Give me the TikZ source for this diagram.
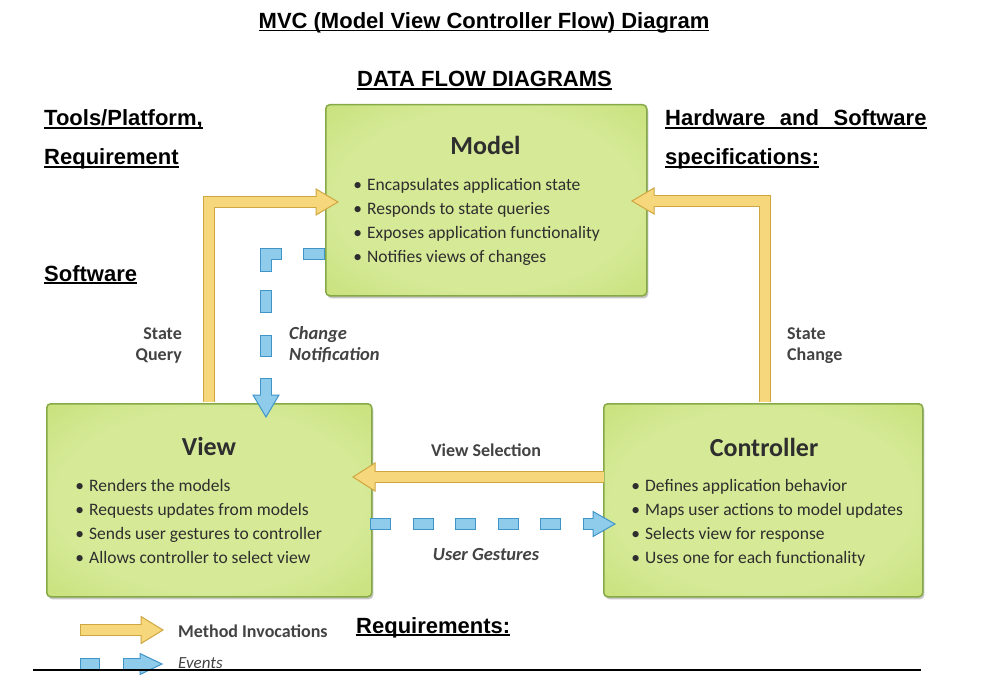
\documentclass[tikz,border=0pt]{standalone}
\usepackage{fontspec}
\setmainfont{Carlito}
\newfontfamily\hfont{Liberation Sans}
\usetikzlibrary{calc}

\definecolor{gout}{HTML}{B2D54F}
\definecolor{gmid}{HTML}{C4DE72}
\definecolor{gin}{HTML}{D5E996}
\definecolor{gborder}{HTML}{86A947}
\definecolor{yfill}{HTML}{F7D77C}
\definecolor{yborder}{HTML}{CFA740}
\definecolor{bfill}{HTML}{8FCCEB}
\definecolor{bborder}{HTML}{3F95C8}
\definecolor{txt}{HTML}{2E2E2E}

\pgfdeclareradialshading{boxshade}{\pgfpoint{0bp}{0bp}}{color(0bp)=(gin); color(24bp)=(gin); color(40bp)=(gmid); color(50bp)=(gout)}

\newcommand\hd[1]{\setbox0\hbox{#1}\rlap{\vrule height -1pt depth 2.6pt width \wd0}\box0}

\newcommand\fathead[5]{% fill, border, tip, angle, half height
  \filldraw[fill=#1, draw=#2, line width=1pt, line join=miter, shift={(#3)}, rotate=#4]
    (0,0) -- (-22,-#5) -- (-22,#5) -- cycle;}

\tikzset{
  mvcbox/.style={draw=gborder, line width=1.5pt, rounded corners=4pt, shading=boxshade,
    anchor=north west, inner sep=0pt,
    preaction={fill=black!22, transform canvas={shift={(1.5pt,-2.5pt)}}}},
  boxtitle/.style={font=\bfseries\fontsize{26}{30}\selectfont, text=txt, anchor=base, inner sep=0pt},
  bul/.style={font=\fontsize{17.5}{22}\selectfont, text=txt, anchor=base west, inner sep=0pt},
  lbl/.style={font=\bfseries\fontsize{18}{22}\selectfont, text=txt!90, inner sep=0pt},
  ilbl/.style={font=\bfseries\itshape\fontsize{18.5}{22}\selectfont, text=txt!90, inner sep=0pt},
  head/.style={font=\hfont\bfseries\fontsize{22}{26}\selectfont, text=black, inner sep=0pt, anchor=base west},
  yb/.style={draw=yborder, line width=12pt},
  yi/.style={draw=yfill, line width=10pt},
  bb/.style={draw=bborder, line width=12pt},
  bi/.style={draw=bfill, line width=10pt},
}

\begin{document}
\begin{tikzpicture}[x=1pt,y=-1pt]
\useasboundingbox (0,0) rectangle (992,676);
\fill[white] (0,0) rectangle (992,676);
\clip (0,0) rectangle (992,676);

% headings
\node[head, anchor=base] (title) at (484,28.8) {\hd{MVC (Model View Controller Flow) Diagram}};
\node[head, anchor=base] (dfd) at (484.5,87) {\hd{DATA FLOW DIAGRAMS}};
\node[head] (tools) at (44,126) {\hd{Tools/Platform,}};
\node[head] (req) at (44,165) {\hd{Requirement}};
\node[head] (soft) at (44,281) {\hd{Software}};
\node[head] (hw) at (665,126) {\hd{Hardware\hspace{14.5pt}and\hspace{14.5pt}Software}};
\node[head] (spec) at (665,165) {\hd{specifications:}};
\node[head] (reqs) at (356,633) {\hd{Requirements:}};

% boxes
\node[mvcbox, minimum width=321pt, minimum height=191pt] (model) at (325,104) {};
\node[mvcbox, minimum width=325pt, minimum height=193pt] (view) at (46,403) {};
\node[mvcbox, minimum width=319pt, minimum height=193pt] (controller) at (603,403) {};

\node[boxtitle] (mt) at (485.5,155) {Model};
\node[boxtitle] (vt) at (209,455) {View};
\node[boxtitle] (ct) at (764,456) {Controller};

\foreach \t [count=\i] in {Encapsulates application state, Responds to state queries,
  Exposes application functionality, Notifies views of changes}
  \node[bul] (mb\i) at (367,{191+23.7*(\i-1)}) {\llap{\textbullet\hspace{5pt}}\t};
\foreach \t [count=\i] in {Renders the models, Requests updates from models,
  Sends user gestures to controller, Allows controller to select view}
  \node[bul] (vb\i) at (89,{491+24*(\i-1)}) {\llap{\textbullet\hspace{5pt}}\t};
\foreach \t [count=\i] in {Defines application behavior, Maps user actions to model updates,
  Selects view for response, Uses one for each functionality}
  \node[bul] (cb\i) at (645,{491+24*(\i-1)}) {\llap{\textbullet\hspace{5pt}}\t};

% State Query arrow (view -> model)
\coordinate (sq0) at ($(view.north)+(-0.5,-0.8)$);
\coordinate (sqT) at (338,202);
\draw[yb] (sq0) |- ($(sqT)+(-22,0)$);
\fathead{yfill}{yborder}{sqT}{0}{13}
\draw[yi] (sq0) |- ($(sqT)+(-21,0)$);

% State Change arrow (controller -> model)
\coordinate (sc0) at ($(controller.north)+(1.5,-0.8)$);
\coordinate (scT) at (632,201);
\draw[yb] (sc0) |- ($(scT)+(22,0)$);
\fathead{yfill}{yborder}{scT}{180}{13}
\draw[yi] (sc0) |- ($(scT)+(21,0)$);

% View Selection arrow (controller -> view)
\coordinate (vs0) at ($(controller.west |- 0,477)+(0.8,0)$);
\coordinate (vsT) at (353,477);
\draw[yb] (vs0) -- ($(vsT)+(22,0)$);
\fathead{yfill}{yborder}{vsT}{180}{14}
\draw[yi] (vs0) -- ($(vsT)+(21,0)$);

% User Gestures (view -> controller), dashed
\coordinate (ug0) at (370,524);
\coordinate (ug1) at (583,524);
\coordinate (ugT) at (615,524);
\draw[bb, dash pattern=on 21 off 21.5] (ug0) -- (ug1);
\draw[bi, dash pattern=on 19 off 23.5, dash phase=41.5] (ug0) -- (ug1);
\draw[bb] (ug1) -- ($(ugT)+(-18,0)$);
\fathead{bfill}{bborder}{ugT}{0}{12.5}
\draw[bi] ($(ug1)+(1,0)$) -- ($(ugT)+(-17,0)$);

% Change Notification (model -> view), dashed
\coordinate (cn0) at ($(model.north west)+(0,150)$);
\coordinate (cn1) at (266,254);
\coordinate (cn2) at (266,378);
\coordinate (cnT) at (266,417);
\draw[bb, line join=miter, dash pattern=on 22 off 21 on 34 off 18 on 23 off 22 on 22 off 21] (cn0) -- (cn1) -- (cn2);
\draw[bi, line join=miter, dash pattern=on 20 off 23 on 32 off 20 on 21 off 24 on 20 off 23, dash phase=182] (cn0) -- (cn1) -- (cn2);
\draw[bb] (cn2) -- ($(cnT)+(0,-22)$);
\fathead{bfill}{bborder}{cnT}{-90}{13}
\draw[bi] ($(cn2)+(0,1)$) -- ($(cnT)+(0,-21)$);

% labels
\node[lbl, anchor=base east] (sqa) at (182,339) {State};
\node[lbl, anchor=base east] (sqb) at (182,360) {Query};
\node[ilbl, anchor=base west] (cna) at (289,339) {Change};
\node[ilbl, anchor=base west] (cnb) at (289,360) {Notification};
\node[lbl, anchor=base west] (sca) at (787,339) {State};
\node[lbl, anchor=base west] (scb) at (787,360) {Change};
\node[lbl, anchor=base] (vsl) at (486,456) {View Selection};
\node[ilbl, anchor=base] (ugl) at (486,560) {User Gestures};

% legend
\coordinate (mi0) at (80,630);
\coordinate (miT) at (163,630);
\draw[yb] (mi0) -- ($(miT)+(-22,0)$);
\fathead{yfill}{yborder}{miT}{0}{13.5}
\draw[yi] ($(mi0)+(1,0)$) -- ($(miT)+(-21,0)$);
\node[lbl, anchor=base west] (mil) at (178,637) {Method Invocations};

\coordinate (ev0) at (80,664);
\coordinate (ev1) at (100,664);
\coordinate (ev2) at (123,664);
\coordinate (evT) at (162,664);
\draw[bb] (ev0) -- (ev1);
\draw[bi] ($(ev0)+(1,0)$) -- ($(ev1)+(-1,0)$);
\draw[bb] (ev2) -- ($(evT)+(-22,0)$);
\fathead{bfill}{bborder}{evT}{0}{10.5}
\draw[bi] ($(ev2)+(1,0)$) -- ($(evT)+(-21,0)$);
\node[ilbl, font=\itshape\fontsize{17}{20}\selectfont, anchor=base west] (evl) at (178,668) {Events};

\coordinate (hl0) at (33,670);
\coordinate (hl1) at (921,670);
\draw[line width=2pt, black] (hl0) -- (hl1);
\end{tikzpicture}
\end{document}
